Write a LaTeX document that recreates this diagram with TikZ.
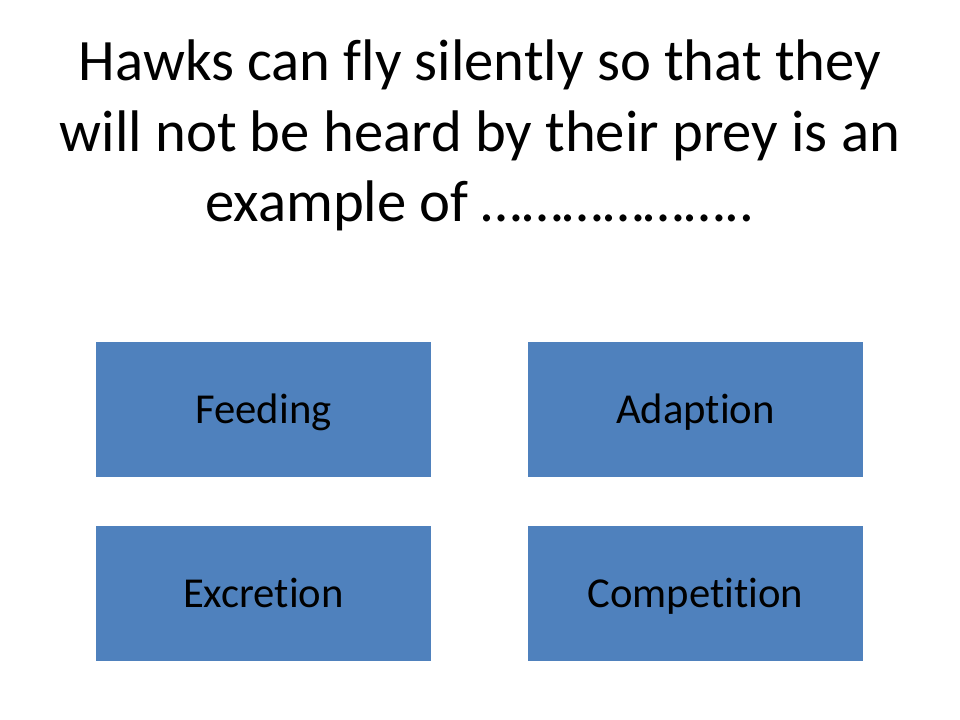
\documentclass[tikz,border=0pt]{standalone}
\usepackage{fontspec}
\setmainfont{Carlito}[RawFeature=-liga]
\definecolor{boxblue}{HTML}{4F81BD}
\newcommand\threedots{…}
\begin{document}
\begin{tikzpicture}[x=1pt,y=1pt,
    answer/.style={fill=boxblue,minimum width=251.25pt,minimum height=101.25pt,inner sep=0pt,
      text height=20.6pt,text depth=0pt,font=\fontsize{32}{38}\selectfont}]
  % the page
  \useasboundingbox (0,0) rectangle (720,540);
  % the question, last baseline at 166.5pt from the top
  \node[align=center,anchor=base,font=\fontsize{44}{53}\selectfont] (question) at (360,373.5)
    {Hawks can fly silently so that they\\will not be heard by their prey is an\\example of \threedots\threedots\threedots\threedots\threedots\threedots..};

  %% the answers
  \foreach \name/\x/\y/\txt in {feeding/197.6/232.9/Feeding,adaption/521.6/232.9/Adaption,
                                excretion/197.6/94.9/Excretion,competition/521.6/94.9/Competition}
  {
    \node[answer] (\name) at (\x,\y) {\txt};
  }
\end{tikzpicture}
\end{document}
